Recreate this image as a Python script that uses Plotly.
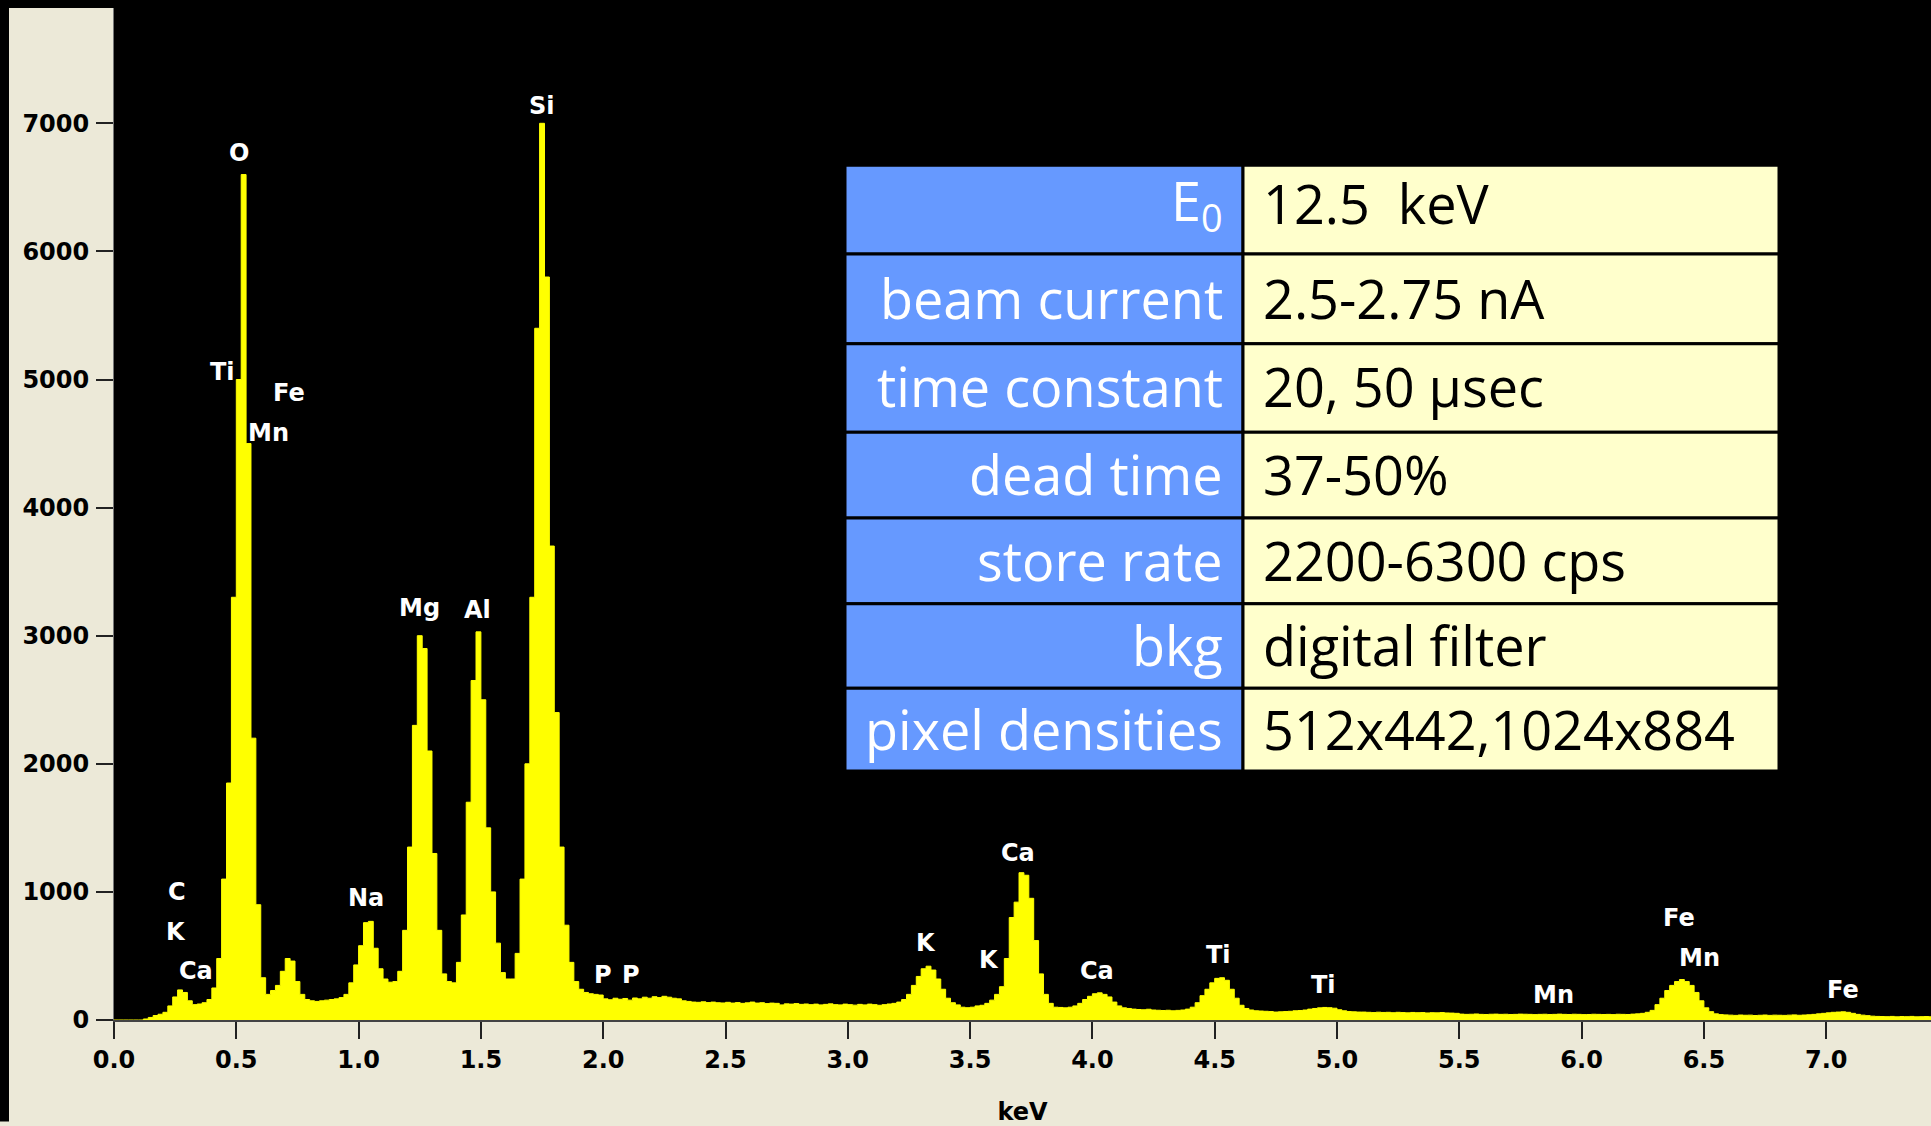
import plotly.graph_objects as go

# ---------------- data ----------------
channel_width_kev = 0.02
counts = [
    0, 0, 0, 0, 0, 0, 8, 20, 35, 45,
    60, 110, 180, 235, 215, 150, 120, 125, 135, 160,
    250, 480, 1100, 1850, 3300, 5000, 6600, 4500, 2200, 900,
    330, 200, 230, 270, 380, 480, 460, 300, 200, 160,
    150, 145, 150, 155, 160, 165, 175, 200, 290, 430,
    580, 760, 770, 560, 400, 320, 295, 300, 380, 700,
    1350, 2300, 3000, 2900, 2100, 1300, 700, 360, 300, 290,
    450, 820, 1700, 2650, 3030, 2500, 1500, 1000, 600, 370,
    320, 320, 520, 1100, 2000, 3300, 5400, 7000, 5800, 3700,
    2400, 1350, 740, 450, 300, 240, 215, 205, 200, 195,
    165, 158, 170, 162, 168, 155, 172, 165, 178, 170,
    182, 175, 185, 178, 170, 165, 150, 145, 140, 138,
    142, 136, 140, 135, 133, 138, 132, 136, 130, 134,
    140, 132, 135, 128, 132, 130, 118, 126, 124, 128,
    122, 125, 120, 124, 118, 122, 126, 120, 118, 124,
    120, 116, 122, 118, 124, 120, 115, 120, 125, 130,
    140, 160, 200, 270, 340, 400, 420, 390, 320, 240,
    170, 135, 118, 100, 96, 100, 110, 115, 130, 155,
    200, 260, 480, 800, 920, 1150, 1130, 950, 620, 360,
    200, 130, 100, 98, 95, 100, 110, 130, 160, 185,
    205, 212, 200, 180, 140, 110, 95, 90, 85, 82,
    80, 84, 78, 76, 74, 76, 72, 75, 78, 85,
    100, 135, 190, 240, 290, 325, 330, 310, 240, 170,
    115, 90, 78, 72, 70, 68, 66, 62, 64, 66,
    68, 72, 74, 78, 85, 90, 95, 98, 96, 92,
    80, 72, 66, 64, 62, 62, 60, 58, 61, 59,
    60, 57, 60, 58, 56, 59, 57, 58, 55, 57,
    56, 58, 55, 54, 52, 46, 44, 45, 47, 44,
    43, 45, 46, 44, 45, 43, 44, 46, 45, 44,
    42, 44, 45, 43, 44, 46, 44, 43, 45, 44,
    42, 43, 45, 44, 43, 44, 42, 45, 44, 43,
    46, 48, 52, 60, 75, 120, 170, 230, 270, 300,
    316, 300, 270, 215, 150, 95, 65, 48, 42, 40,
    38, 36, 39, 37, 38, 35, 37, 39, 36, 38,
    37, 36, 38, 40, 37, 39, 41, 44, 48, 52,
    56, 60, 62, 64, 60, 52, 44, 38, 34, 30,
    28, 27, 26, 28, 25, 27, 26, 28, 25, 26, 27, 25,
]

peak_labels = ["O", "Si", "Ti", "Fe", "Mn", "Mg", "Al", "C", "K", "Ca", "Na",
               "P", "P", "K", "K", "Ca", "Ca", "Ti", "Ti", "Mn", "Fe", "Mn", "Fe"]
peak_label_kev = [0.513, 1.748, 0.443, 0.715, 0.630, 1.249, 1.486, 0.256, 0.252,
                  0.337, 1.032, 1.999, 2.115, 3.318, 3.579, 3.695, 4.017, 4.516,
                  4.944, 5.885, 6.399, 6.480, 7.069]
peak_label_counts = [6765, 7139, 5062, 4891, 4580, 3219, 3204, 1003, 684, 381,
                     956, 350, 350, 599, 467, 1306, 381, 505, 272, 194, 793, 482, 233]

x_tick_vals = [0.0, 0.5, 1.0, 1.5, 2.0, 2.5, 3.0, 3.5, 4.0, 4.5, 5.0, 5.5, 6.0, 6.5, 7.0]
x_tick_text = ["0.0", "0.5", "1.0", "1.5", "2.0", "2.5", "3.0", "3.5", "4.0",
               "4.5", "5.0", "5.5", "6.0", "6.5", "7.0"]
y_tick_vals = [0, 1000, 2000, 3000, 4000, 5000, 6000, 7000]
y_tick_text = ["0", "1000", "2000", "3000", "4000", "5000", "6000", "7000"]

table_params = ["E<sub>0</sub>", "beam current", "time constant", "dead time",
                "store rate", "bkg", "pixel densities"]
table_values = ["12.5\u00a0 keV", "2.5-2.75 nA", "20, 50 \u00b5sec", "37-50%",
                "2200-6300 cps", "digital filter", "512x442,1024x884"]

# ---------------- layout geometry (pixels) ----------------
W, H = 1931, 1126
ML, MB = 114, 102
PW = W - ML
PH = H - MB


def px_x(p):
    return (p - ML) / PW


def px_y(p):
    return (PH - p) / PH


energy_edges = [i * channel_width_kev for i in range(len(counts) + 1)]
step_counts = counts + [counts[-1]]

fig = go.Figure()
fig.add_trace(go.Scatter(
    x=energy_edges, y=step_counts, mode="lines", line_shape="hv",
    line=dict(color="#FFFF00", width=1), fill="tozeroy", fillcolor="#FFFF00",
    hoverinfo="x+y",
))

label_font = dict(family="DejaVu Sans", size=24, color="white", weight="bold")
for t, xk, yc in zip(peak_labels, peak_label_kev, peak_label_counts):
    fig.add_annotation(x=xk, y=yc, xref="x", yref="y", text=t, showarrow=False,
                       xanchor="center", yanchor="middle", font=label_font)

# table
row_edges = [166, 255, 345, 434, 520, 606, 691, 774]
text_centers = [204, 299, 388, 476, 562, 648, 732]
col_left, col_mid, col_right = 845, 1243, 1779
shapes = []
for i in range(len(table_params)):
    y0, y1 = row_edges[i], row_edges[i + 1]
    shapes.append(dict(type="rect", xref="paper", yref="paper",
                       x0=px_x(col_left), x1=px_x(col_mid), y0=px_y(y1), y1=px_y(y0),
                       fillcolor="#6699FF", line=dict(color="black", width=3)))
    shapes.append(dict(type="rect", xref="paper", yref="paper",
                       x0=px_x(col_mid), x1=px_x(col_right), y0=px_y(y1), y1=px_y(y0),
                       fillcolor="#FFFFCC", line=dict(color="black", width=3)))
    yc = px_y(text_centers[i])
    fig.add_annotation(x=px_x(1225), y=yc, xref="paper", yref="paper",
                       text=table_params[i], showarrow=False, xanchor="right",
                       yanchor="middle",
                       font=dict(family="Open Sans", size=54, color="white"))
    fig.add_annotation(x=px_x(1261), y=yc, xref="paper", yref="paper",
                       text=table_values[i], showarrow=False, xanchor="left",
                       yanchor="middle",
                       font=dict(family="Open Sans", size=54, color="black"))

# black frame strips (left edge and top edge of the beige panel)
shapes.append(dict(type="rect", xref="paper", yref="paper", x0=px_x(0), x1=px_x(9),
                   y0=px_y(H), y1=1, fillcolor="black", line=dict(width=0)))
shapes.append(dict(type="rect", xref="paper", yref="paper", x0=px_x(0), x1=0,
                   y0=px_y(8), y1=1, fillcolor="black", line=dict(width=0)))

tick_font = dict(family="DejaVu Sans", size=24, color="black", weight="bold")
fig.update_layout(
    width=W, height=H, autosize=False,
    margin=dict(l=ML, r=0, t=0, b=MB, pad=0),
    paper_bgcolor="#ECE9D8", plot_bgcolor="black",
    showlegend=False, shapes=shapes,
    xaxis=dict(range=[0, PW / 244.6], tickvals=x_tick_vals, ticktext=x_tick_text,
               ticks="outside", ticklen=17, tickwidth=2, tickcolor="#222",
               showline=True, linecolor="#444", linewidth=2, showgrid=False,
               zeroline=False, tickfont=tick_font, ticklabelstandoff=0,
               title=dict(text="keV", font=tick_font, standoff=35)),
    yaxis=dict(range=[0, PH * 7.776], tickvals=y_tick_vals, ticktext=y_tick_text,
               ticks="outside", ticklen=17, tickwidth=2, tickcolor="#222",
               showline=True, linecolor="#777", linewidth=1, showgrid=False,
               zeroline=False, tickfont=tick_font, ticklabelstandoff=2),
)

fig.write_html(
    "out.html",
    config={"displayModeBar": False},
    post_script="document.body.style.margin='0';document.body.style.overflow='hidden';",
)
